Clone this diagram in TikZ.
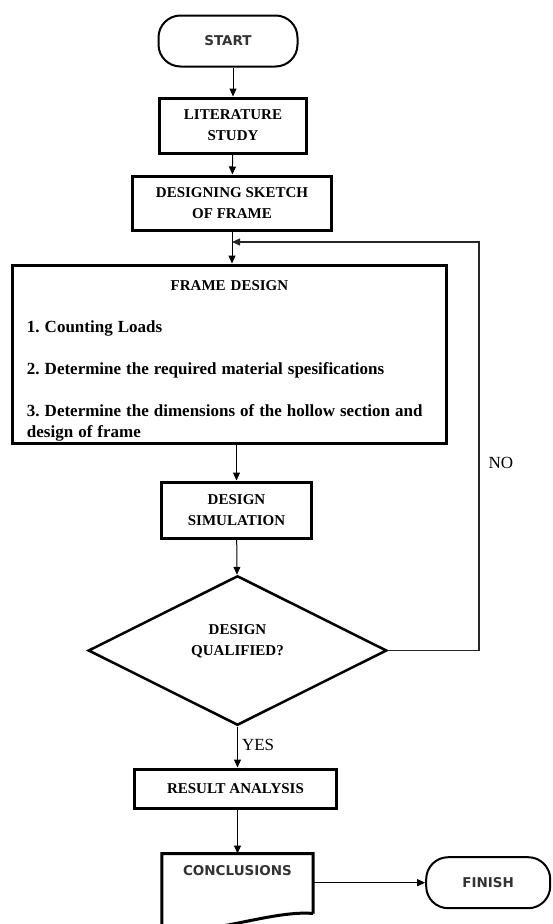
\documentclass[tikz,border=0pt]{standalone}
\usepackage{fontspec}
\setmainfont{Liberation Serif}
\newfontfamily\capsans{DejaVu Sans}
\usetikzlibrary{
  shapes.geometric,
  arrows.meta,
  positioning,
  calc
}
\frenchspacing
\tikzset{
  % Start / finish terminal
  term/.style={
    rectangle, rounded corners=22pt,
    draw, line width=2pt,
    minimum width=#1, minimum height=51pt,
    font=\capsans\bfseries\fontsize{13.5}{16}\selectfont, text=black!80
  },
  term/.default=124pt,
  % Process box
  proc/.style={
    rectangle, draw, line width=3pt,
    minimum width=#1, inner sep=2pt,
    align=center, font=\bfseries\fontsize{15}{21}\selectfont
  },
  % Decision diamond
  dec/.style={
    diamond, aspect=2, draw, line width=2.5pt, inner sep=0pt,
    minimum width=298.5pt, minimum height=149.5pt
  },
  % Arrow
  arr/.style={
    -{Triangle[length=8pt,width=7pt]},
    line width=1pt
  },
  % Edge label
  lbl/.style={font=\fontsize{17}{20}\selectfont, inner sep=1pt}
}

\begin{document}
\begin{tikzpicture}[x=1pt, y=-1pt]

  \useasboundingbox (0,0) rectangle (553,924);

  % Main column
  \node[term=139pt] (start) at (228,41) {START};
  \node[proc=147pt, minimum height=55pt, below=29pt of start, xshift=5pt]  (lit)    {LITERATURE\\STUDY};
  \node[proc=199pt, minimum height=54pt, below=20pt of lit, xshift=-1pt]   (sketch) {DESIGNING SKETCH\\OF FRAME};
  \node[proc=434pt, minimum height=178pt, inner ysep=0pt, text width=405pt, align=left,
        below=32pt of sketch, xshift=-2.5pt] (frame)
       {\makebox[405pt]{\rule{0pt}{23pt}FRAME DESIGN}\\[21pt]
        {\fontsize{17}{21}\selectfont 1. Counting Loads}\\[21pt]
        {\fontsize{17}{21}\selectfont 2. Determine the required material spesifications}\\[21pt]
        {\fontsize{17}{21}\selectfont 3. Determine the dimensions of the hollow section and}\\
        {\fontsize{17}{21}\selectfont design of frame}};
  \node[proc=150pt, minimum height=56pt, below=36pt of frame, xshift=7pt]  (sim)    {DESIGN\\SIMULATION};
  \node[dec, below=35pt of sim, xshift=1pt,
        label={[font=\bfseries\fontsize{15}{21}\selectfont, align=center, yshift=9pt]center:DESIGN\\QUALIFIED?}] (qual) {};
  \node[proc=202pt, minimum height=39pt, below=41pt of qual, xshift=-2pt]  (result) {RESULT ANALYSIS};
  \node[rectangle, minimum width=151pt, minimum height=34pt, inner sep=0pt,
        font=\capsans\bfseries\fontsize{13.5}{16}\selectfont, text=black!80,
        below=44pt of result, xshift=2pt] (concl) {CONCLUSIONS};
  \node[term, right=112pt of concl, yshift=-12pt] (finish) {FINISH};

  % Document outline with wavy bottom
  \draw[line width=3pt, line join=miter]
    ($(concl.north east)+(0,60)$) -- (concl.north east) -- (concl.north west)
    -- ($(concl.north west)+(0,74)$)
    .. controls ($(concl.north west)+(38,86)$) and ($(concl.north east)+(-43,56)$)
    .. ($(concl.north east)+(0,60)$);

  \coordinate (back) at (479,242);

  \draw[arr] (start.south -| lit) -- (lit);
  \draw[arr] (lit) -- (sketch);
  \draw[arr] (sketch) -- (sketch |- frame.north);
  \draw[arr] (frame.south -| sim) -- (sim);
  \draw[arr] (sim) -- (qual);
  \draw[arr] (qual.south) -- node[right=3pt, pos=0.44, lbl]{YES} (qual.south |- result.north);
  \draw[arr] (result.south -| concl.north) -- (concl.north);
  \draw[arr] (concl.east |- finish.west) -- (finish.west);
  \draw[arr, line width=1.2pt, black!85] (qual.east) -| node[right=8pt, pos=0.73, lbl, black]{NO} (back) -- (back -| sketch.south);

\end{tikzpicture}
\end{document}
